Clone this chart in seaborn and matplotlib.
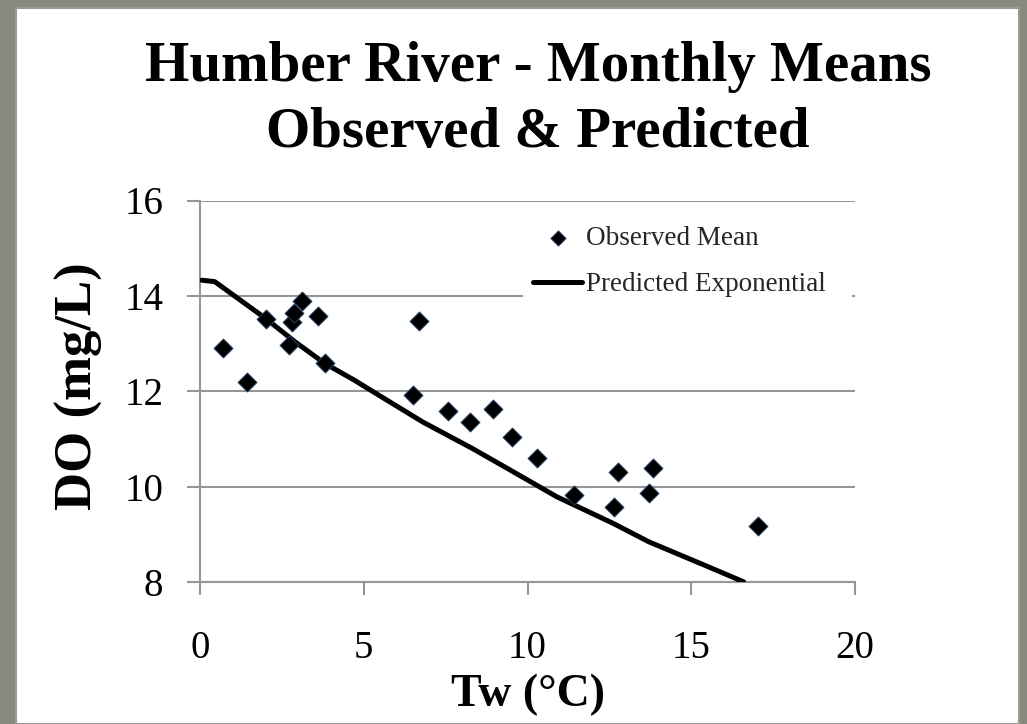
import numpy as np
import pandas as pd
import matplotlib
matplotlib.use("Agg")
import matplotlib.pyplot as plt
from matplotlib.patches import Rectangle
import seaborn as sns

# Monthly mean water temperature (°C) and dissolved oxygen (mg/L)
tw_obs = [0.69, 1.42, 2.03, 2.72, 2.82, 2.88, 3.12, 3.61, 3.82, 6.49, 6.69,
          7.58, 8.24, 8.96, 9.52, 10.28, 11.43, 12.63, 12.75, 13.70, 13.82, 17.04]
do_obs = [12.91, 12.19, 13.51, 12.98, 13.45, 13.65, 13.90, 13.58, 12.60, 11.93, 13.47,
          11.59, 11.35, 11.63, 11.04, 10.60, 9.83, 9.58, 10.31, 9.88, 10.40, 9.18]

# Predicted exponential curve
tw_pred = [0.05, 0.45, 2.0, 2.9, 3.8, 4.7, 5.7, 6.8, 8.3, 9.3, 10.9, 12.6, 13.7, 15.4, 16.6]
do_pred = [14.33, 14.30, 13.53, 13.04, 12.59, 12.24, 11.82, 11.36, 10.81, 10.42,
           9.79, 9.24, 8.85, 8.36, 8.01]

x_ticks = [0, 5, 10, 15, 20]
y_ticks = [8, 10, 12, 14, 16]

obs = pd.DataFrame({"Tw": tw_obs, "DO": do_obs})
pred = pd.DataFrame({"Tw": tw_pred, "DO": do_pred})

sns.set_theme(style="white")
plt.rcParams["font.family"] = ["Liberation Serif", "DejaVu Serif"]

W, H = 1027, 724
fig = plt.figure(figsize=(W / 100, H / 100), dpi=100, facecolor="#878a7d")

# white slide panel with a thin grey rim
fig.patches.append(Rectangle((16 / W, 0), (1019 - 16) / W, (H - 8) / H,
                             transform=fig.transFigure, facecolor="white",
                             edgecolor="#9a9a9a", linewidth=1.5, zorder=-5))

ax = fig.add_axes([200 / W, 1 - 582.3 / H, 655 / W, (582.3 - 200.5) / H])
ax.set_facecolor("white")
ax.set_zorder(1)

grid_c = "#969696"
sns.lineplot(data=pred, x="Tw", y="DO", ax=ax, color="black", linewidth=3.6,
             sort=False, label="Predicted Exponential", zorder=3)
sns.scatterplot(data=obs, x="Tw", y="DO", ax=ax, marker="D", s=95,
                color="black", edgecolor="#2c4a72", linewidth=0.6,
                label="Observed Mean", zorder=4)

ax.set_xlim(0, 20)
ax.set_ylim(8, 16)
ax.set_xticks(x_ticks)
ax.set_yticks(y_ticks)
ax.yaxis.grid(True, color=grid_c, linewidth=1.5)
ax.set_axisbelow(True)
for side in ["top", "right"]:
    ax.spines[side].set_visible(False)
for side in ["left", "bottom"]:
    ax.spines[side].set_color(grid_c)
    ax.spines[side].set_linewidth(1.5)
ax.tick_params(axis="both", which="major", direction="out", length=9.5,
               width=1.5, color=grid_c, labelsize=28, labelcolor="black",
               left=True, bottom=True)
ax.tick_params(axis="y", pad=17)
ax.tick_params(axis="x", pad=25)

ax.set_xlabel("Tw (°C)", fontsize=33, fontweight="bold", color="black")
ax.set_ylabel("DO (mg/L)", fontsize=38, fontweight="bold", color="black")
ax.xaxis.set_label_coords((528 - 200) / 655, -(674 - 582.3) / 381.8)
ax.yaxis.set_label_coords((103 - 200) / 655, 0.515)

# white legend backdrop over the top gridlines
ax.add_patch(Rectangle((523 / W, 1 - 299 / H), (852 - 523) / W, (299 - 214) / H,
                       transform=fig.transFigure, facecolor="white",
                       edgecolor="none", zorder=2))

handles, labels = ax.get_legend_handles_labels()
order = [labels.index("Observed Mean"), labels.index("Predicted Exponential")]
leg = ax.legend([handles[i] for i in order], [labels[i] for i in order],
                loc="upper left", bbox_to_anchor=(525 / W, 1 - 218 / H),
                bbox_transform=fig.transFigure, frameon=False,
                fontsize=19.5, handlelength=1.8, handletextpad=0.15,
                labelspacing=0.78, borderpad=0.3, borderaxespad=0,
                markerscale=0.8)
leg.set_zorder(5)

fig.text(538 / W, 1 - 81 / H, "Humber River - Monthly Means", ha="center",
         va="baseline", fontsize=41, fontweight="bold", color="black")
fig.text(538 / W, 1 - 146.7 / H, "Observed & Predicted", ha="center",
         va="baseline", fontsize=41, fontweight="bold", color="black")

fig.savefig("out.png", dpi=100, facecolor=fig.get_facecolor())
